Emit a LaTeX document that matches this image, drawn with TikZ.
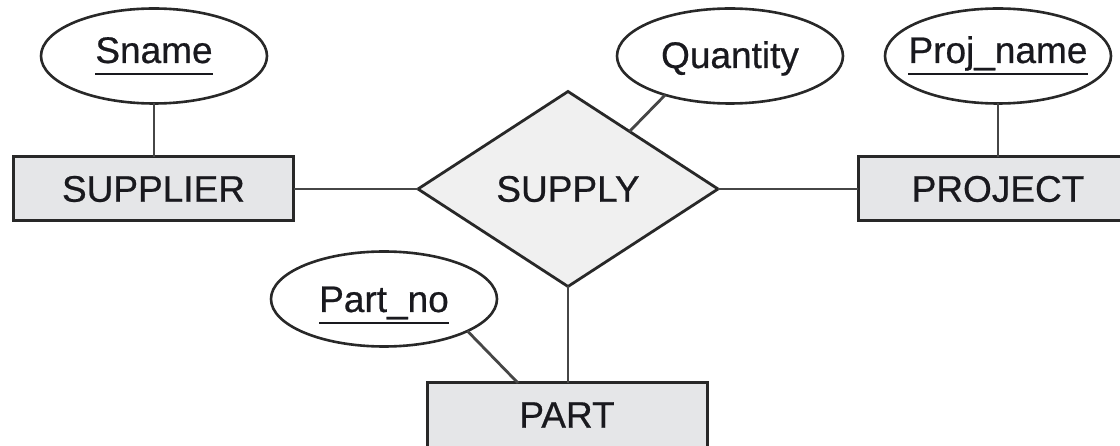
\documentclass[tikz,border=0pt]{standalone}
\usepackage{fontspec}
\setmainfont{Liberation Sans}[FakeBold=0.6]
\usetikzlibrary{shapes.geometric,calc}
\definecolor{entfill}{RGB}{229,230,232}
\definecolor{relfill}{RGB}{240,240,240}
\definecolor{edgec}{RGB}{40,40,40}
\definecolor{connc}{RGB}{70,70,70}
\definecolor{txtc}{RGB}{25,25,30}
\begin{document}
\begin{tikzpicture}[x=1pt,y=-1pt,
 every node/.style={font=\fontsize{37}{40}\selectfont, text=txtc},
 entity/.style={draw=edgec, line width=3pt, fill=entfill, minimum width=280pt, minimum height=64pt, inner sep=0pt, outer sep=0pt},
 relation/.style={diamond, draw=edgec, line width=2.8pt, fill=relfill, minimum width=300pt, minimum height=195pt, inner sep=0pt, outer sep=0pt},
 attr/.style={ellipse, draw=edgec, line width=2.6pt, minimum width=226pt, minimum height=95pt, inner sep=0pt, outer sep=0pt},
 lbl/.style={inner sep=0pt, anchor=base},
 conn/.style={draw=connc, line width=2.8pt},
 uline/.style={draw=txtc, line width=2.4pt}]
\useasboundingbox (0,0) rectangle (1120,446);
\clip (0,0) rectangle (1120,446);
\fill[white] (0,0) rectangle (1120,446);

% entities and relationship
\node[entity] (supplier) at (153.5,189) {SUPPLIER};
\node[entity] (project) at (998,189) {PROJECT};
\node[entity] (part) at (567,415) {PART};
\node[relation] (supply) at (568,189) {SUPPLY};

% attributes
\node[attr] (sname) at (154,56) {};
\node[lbl] (snamet) at (154,63) {Sname};
\node[attr] (quantity) at (730,56) {};
\node[lbl] (quantityt) at (730,68) {Quantity};
\node[attr] (projname) at (998,56) {};
\node[lbl] (projnamet) at (998,63) {Proj\_name};
\node[attr] (partno) at (384,299) {};
\node[lbl] (partnot) at (384,312) {Part\_no};

% underlines of keys
\draw[uline] ([yshift=-11pt]snamet.base west) -- ([yshift=-11pt]snamet.base east);
\draw[uline] ([yshift=-11pt]projnamet.base west) -- ([yshift=-11pt]projnamet.base east);
\draw[uline] ([yshift=-11pt]partnot.base west) -- ([yshift=-11pt]partnot.base east);

% connectors
\coordinate (qend) at ($(supply.north)!0.41!(supply.east)$);
\coordinate (pend) at ($(part.north west)!0.325!(part.north east)$);
\draw[conn] (sname.south) -- (sname.south |- supplier.north);
\draw[conn] (projname.south) -- (projname.south |- project.north);
\draw[conn] (supplier.east) -- (supply.west);
\draw[conn] (supply.east) -- (project.west);
\draw[conn] (quantity.211) -- (qend);
\draw[conn] (supply.south) -- (supply.south |- part.north);
\draw[conn] (partno.339) -- (pend);
\end{tikzpicture}
\end{document}
